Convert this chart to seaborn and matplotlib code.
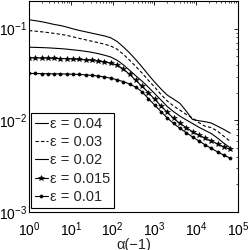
import numpy as np
import pandas as pd
import seaborn as sns
import matplotlib
matplotlib.use("Agg")
import matplotlib.pyplot as plt

# alpha grid (2^(k/2), k = 0..32)
alpha = [1.0, 1.414, 2.0, 2.828, 4.0, 5.657, 8.0, 11.31, 16.0, 22.63, 32.0, 45.25,
         64.0, 90.51, 128.0, 181.0, 256.0, 362.0, 512.0, 724.1, 1024.0, 1448.2,
         2048.0, 2896.3, 4096.0, 5792.6, 8192.0, 11585.2, 16384.0, 23170.5,
         32768.0, 46341.0, 65536.0]

eps_labels = ["ε = 0.04", "ε = 0.03", "ε = 0.02", "ε = 0.015", "ε = 0.01"]

y_004 = [0.125, 0.122, 0.119, 0.115, 0.111, 0.108, 0.104, 0.0993, 0.0955, 0.0923,
         0.0891, 0.0861, 0.0832, 0.0794, 0.0724, 0.0631, 0.0543, 0.0457, 0.0380,
         0.0313, 0.0260, 0.0219, 0.0188, 0.0170, 0.0153, 0.0126, 0.0102, 0.00989,
         0.00966, 0.00933, 0.00861, 0.00794, 0.00724]
y_003 = [0.0951, 0.0938, 0.0923, 0.0906, 0.0887, 0.0867, 0.0843, 0.0813, 0.0782,
         0.0755, 0.0728, 0.0703, 0.0676, 0.0646, 0.0596, 0.0525, 0.0452, 0.0385,
         0.0326, 0.0272, 0.0229, 0.0191, 0.0162, 0.0143, 0.0129, 0.0116, 0.0106,
         0.00944, 0.00861, 0.00832, 0.00759, 0.00668, 0.00589]
y_002 = [0.0627, 0.0624, 0.0621, 0.0617, 0.0611, 0.0605, 0.0597, 0.0587, 0.0577,
         0.0565, 0.0551, 0.0533, 0.0513, 0.0490, 0.0452, 0.0403, 0.0351, 0.0305,
         0.0266, 0.0229, 0.0195, 0.0166, 0.0141, 0.0124, 0.0111, 0.0101, 0.00923,
         0.00841, 0.00776, 0.00716, 0.00638, 0.00562, 0.00501]
y_0015 = [0.0480, 0.0479, 0.0478, 0.0476, 0.0474, 0.0472, 0.0469, 0.0466, 0.0461,
          0.0456, 0.0450, 0.0442, 0.0432, 0.0419, 0.0400, 0.0363, 0.0316, 0.0272,
          0.0234, 0.0200, 0.0169, 0.0143, 0.0122, 0.0105, 0.00923, 0.00832,
          0.00750, 0.00692, 0.00638, 0.00596, 0.00552, 0.00513, 0.00483]
y_001 = [0.0324, 0.0324, 0.0323, 0.0322, 0.0321, 0.0321, 0.0319, 0.0318, 0.0316,
         0.0313, 0.0309, 0.0304, 0.0297, 0.0288, 0.0277, 0.0264, 0.0249, 0.0229,
         0.0204, 0.0172, 0.0146, 0.0124, 0.0106, 0.00923, 0.00818, 0.00733,
         0.00658, 0.00596, 0.00541, 0.00493, 0.00452, 0.00417, 0.00386]

series = [y_004, y_003, y_002, y_0015, y_001]
styles = [("-", None, 0), ((0, (3, 2)), None, 0), ("-", None, 0),
          ("-", "*", 4.0), ("-", "o", 2.3)]

sns.set_style("white")
plt.rcParams["font.family"] = ["Liberation Sans", "DejaVu Sans"]
plt.rcParams["mathtext.default"] = "regular"

fig = plt.figure(figsize=(2.49, 2.5), dpi=100)
ax = fig.add_axes([0.1165, 0.152, 0.839, 0.844])

for lab, ys, (ls, mk, ms) in zip(eps_labels, series, styles):
    df = pd.DataFrame({"alpha": alpha, "y": ys})
    sns.lineplot(data=df, x="alpha", y="y", ax=ax, color="k", lw=0.8,
                 linestyle=ls, marker=mk, markersize=ms, markeredgewidth=0.4,
                 markeredgecolor="k", markerfacecolor="k", label=lab)

ax.set_xscale("log")
ax.set_yscale("log")
ax.set_xlim(1, 1e5)
ax.set_ylim(1e-3, 0.2)
ax.set_xlabel("α(−1)", fontsize=10.5, labelpad=-1)
ax.set_ylabel("")

for s in ax.spines.values():
    s.set_color("k")
    s.set_linewidth(0.8)
ax.tick_params(which="both", direction="in", top=True, right=True,
               colors="k", labelsize=10)
ax.tick_params(which="major", length=3, width=0.6)
ax.tick_params(which="minor", length=1.5, width=0.5)
ax.tick_params(axis="x", which="major", pad=6)
ax.tick_params(axis="y", which="major", pad=1.5)
ax.xaxis.set_major_locator(matplotlib.ticker.LogLocator(base=10, numticks=10))
ax.xaxis.set_minor_locator(matplotlib.ticker.LogLocator(base=10, subs=np.arange(2, 10), numticks=20))
ax.yaxis.set_minor_locator(matplotlib.ticker.LogLocator(base=10, subs=np.arange(2, 10), numticks=20))
ax.yaxis.set_minor_formatter(matplotlib.ticker.NullFormatter())

leg = ax.legend(loc="lower left", bbox_to_anchor=(0.01, 0.02), borderaxespad=0,
                fontsize=10.5, frameon=True, fancybox=False, edgecolor="k",
                framealpha=1, handlelength=0.9, handletextpad=0.15,
                labelspacing=0.3, borderpad=0.25, numpoints=1)
leg.get_frame().set_linewidth(0.8)

fig.savefig("out.png", dpi=100)
